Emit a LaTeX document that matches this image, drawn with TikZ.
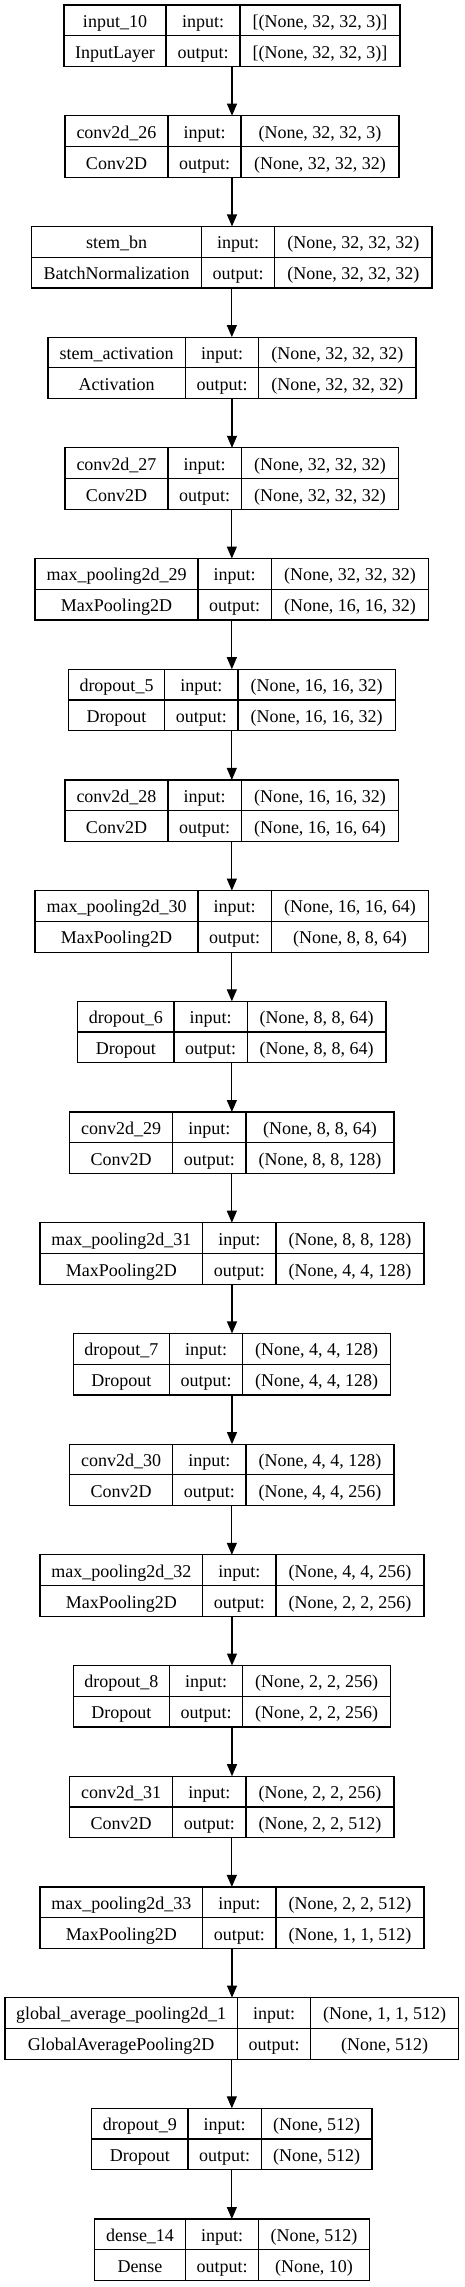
\documentclass[tikz,border=0pt]{standalone}
\usepackage{fontspec}
\setmainfont{Liberation Serif}
\usetikzlibrary{arrows.meta}
\tikzset{
  layerbox/.style={draw=black, line width=1.2pt, inner sep=0pt, outer sep=0pt, anchor=north west, minimum height=61.5pt},
  cell/.style={inner sep=0pt, anchor=base, font=\fontsize{18}{20}\selectfont},
  divider/.style={draw=black, line width=1.2pt},
  arr/.style={draw=black, line width=1.2pt, -{Triangle[length=12pt,width=10pt]}}
}
\newcommand\layer[9]{%
  \pgfmathsetmacro\ty{5+(#1-1)*110.7}%
  \pgfmathsetmacro\by{\ty+61.5}%
  \pgfmathsetmacro\my{\ty+30.75}%
  \pgfmathsetmacro\w{#5-#2}%
  \node[layerbox, minimum width=\w pt] (L#1) at (#2,\ty) {};
  \draw[divider] (#3,\ty) -- (#3,\by) (#4,\ty) -- (#4,\by) (#2,\my) -- (#5,\my);
  \node[cell] (L#1n) at ({(#2+#3)/2},{\ty+22.3}) {#6};
  \node[cell] (L#1t) at ({(#2+#3)/2},{\ty+53.3}) {#7};
  \node[cell] (L#1i) at ({(#3+#4)/2},{\ty+22.3}) {input:};
  \node[cell] (L#1o) at ({(#3+#4)/2},{\ty+53.3}) {output:};
  \node[cell] (L#1ii) at ({(#4+#5)/2},{\ty+22.3}) {#8};
  \node[cell] (L#1oo) at ({(#4+#5)/2},{\ty+53.3}) {#9};
}
\begin{document}
\begin{tikzpicture}[x=1pt,y=-1pt]
\useasboundingbox[fill=white] (0,0) rectangle (464,2287);
\layer{1}{64}{166}{240}{400}{input\_10}{InputLayer}{[(None, 32, 32, 3)]}{[(None, 32, 32, 3)]}
\layer{2}{65}{168}{241}{399}{conv2d\_26}{Conv2D}{(None, 32, 32, 3)}{(None, 32, 32, 32)}
\layer{3}{31.7}{201.3}{274.7}{432}{stem\_bn}{BatchNormalization}{(None, 32, 32, 32)}{(None, 32, 32, 32)}
\layer{4}{48}{185.3}{258.7}{416}{stem\_activation}{Activation}{(None, 32, 32, 32)}{(None, 32, 32, 32)}
\layer{5}{65}{168}{241.3}{398.7}{conv2d\_27}{Conv2D}{(None, 32, 32, 32)}{(None, 32, 32, 32)}
\layer{6}{35}{198}{271.3}{428.7}{max\_pooling2d\_29}{MaxPooling2D}{(None, 32, 32, 32)}{(None, 16, 16, 32)}
\layer{7}{68.3}{164.7}{238}{395.3}{dropout\_5}{Dropout}{(None, 16, 16, 32)}{(None, 16, 16, 32)}
\layer{8}{65}{168}{241.3}{398.7}{conv2d\_28}{Conv2D}{(None, 16, 16, 32)}{(None, 16, 16, 64)}
\layer{9}{35}{198}{271.3}{428.7}{max\_pooling2d\_30}{MaxPooling2D}{(None, 16, 16, 64)}{(None, 8, 8, 64)}
\layer{10}{77.7}{174}{247.3}{386}{dropout\_6}{Dropout}{(None, 8, 8, 64)}{(None, 8, 8, 64)}
\layer{11}{69.7}{172.7}{246}{394}{conv2d\_29}{Conv2D}{(None, 8, 8, 64)}{(None, 8, 8, 128)}
\layer{12}{40}{202.7}{276}{424}{max\_pooling2d\_31}{MaxPooling2D}{(None, 8, 8, 128)}{(None, 4, 4, 128)}
\layer{13}{73.3}{169.3}{242.7}{390.7}{dropout\_7}{Dropout}{(None, 4, 4, 128)}{(None, 4, 4, 128)}
\layer{14}{69.7}{172.7}{246}{394}{conv2d\_30}{Conv2D}{(None, 4, 4, 128)}{(None, 4, 4, 256)}
\layer{15}{40}{202.7}{276}{424}{max\_pooling2d\_32}{MaxPooling2D}{(None, 4, 4, 256)}{(None, 2, 2, 256)}
\layer{16}{73.3}{169.3}{242.7}{390.7}{dropout\_8}{Dropout}{(None, 2, 2, 256)}{(None, 2, 2, 256)}
\layer{17}{69.7}{172.7}{246}{394}{conv2d\_31}{Conv2D}{(None, 2, 2, 256)}{(None, 2, 2, 512)}
\layer{18}{40}{202.7}{276}{424}{max\_pooling2d\_33}{MaxPooling2D}{(None, 2, 2, 512)}{(None, 1, 1, 512)}
\layer{19}{5}{237.3}{310.7}{458.7}{global\_average\_pooling2d\_1}{GlobalAveragePooling2D}{(None, 1, 1, 512)}{(None, 512)}
\layer{20}{91.7}{188}{261.3}{372}{dropout\_9}{Dropout}{(None, 512)}{(None, 512)}
\layer{21}{94.7}{185.3}{258.7}{369.3}{dense\_14}{Dense}{(None, 512)}{(None, 10)}
\foreach \i [evaluate=\i as \j using int(\i+1)] in {1,...,20}
  \draw[arr] (L\i.south) -- (L\i.south |- L\j.north);
\end{tikzpicture}
\end{document}
